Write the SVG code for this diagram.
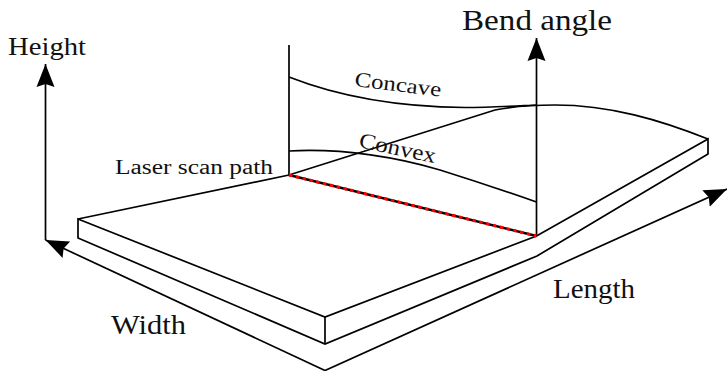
<svg xmlns="http://www.w3.org/2000/svg" width="727" height="371" viewBox="0 0 727 371">
<style>
.l{fill:none;stroke:#000;stroke-width:1.7;stroke-linejoin:miter}
text{font-family:"Liberation Serif","Times New Roman",serif;fill:#111}
</style>
<defs>
<marker id="a" markerUnits="userSpaceOnUse" markerWidth="28" markerHeight="28" refX="23" refY="14" orient="auto" viewBox="0 0 28 28">
<path d="M0 5 L23 14 L0 23 L3 14Z" fill="#000"/>
</marker>
</defs>
<rect width="727" height="371" fill="#fff"/>
<g id="connectors">
<path class="l" d="M45.500 240V64" marker-end="url(#a)"/>
<path class="l" d="M325 370.500L45.500 240" marker-end="url(#a)"/>
<path class="l" d="M325 370.500L727 189" marker-end="url(#a)"/>
<path class="l" d="M536.500 236V38" marker-end="url(#a)"/>
</g>
<g id="plate">
<path class="l" d="M78 219L325 317L536.500 236L708 139V154L537 256L325 344L78 238Z"/>
<path class="l" d="M325 317V344"/>
<path class="l" d="M78 219L289 175L495 110C515 106 535 105 555 105C610 105 660 120 708 139"/>
</g>
<g id="scan-line">
<path class="l" d="M289 175V45"/>
<path d="M289 175L536.500 236" fill="none" stroke="#000" stroke-width="2.400"/>
<path d="M289 175L536.500 236" fill="none" stroke="#f00" stroke-width="3" stroke-dasharray="3.500 3.500"/>
</g>
<g id="concave">
<path class="l" d="M289 77C345 99 405 107 465 107.500C490 107.500 515 106 536.500 105"/>
<text transform="translate(354 86) rotate(7)" font-size="21" textLength="87" lengthAdjust="spacingAndGlyphs">Concave</text>
</g>
<g id="convex">
<path class="l" d="M289 151C345 148 400 158 440 170C475 181 505 191 536.500 202"/>
<text transform="translate(358 147) rotate(12)" font-size="22" textLength="78" lengthAdjust="spacingAndGlyphs">Convex</text>
</g>
<g id="labels">
<text x="8" y="55" font-size="25" textLength="78" lengthAdjust="spacingAndGlyphs">Height</text>
<text x="462" y="30" font-size="30" textLength="150" lengthAdjust="spacingAndGlyphs">Bend angle</text>
<text x="115" y="174" font-size="20" textLength="158" lengthAdjust="spacingAndGlyphs">Laser scan path</text>
<text x="111" y="334" font-size="28" textLength="75" lengthAdjust="spacingAndGlyphs">Width</text>
<text x="553" y="298" font-size="28" textLength="82" lengthAdjust="spacingAndGlyphs">Length</text>
</g>
</svg>
